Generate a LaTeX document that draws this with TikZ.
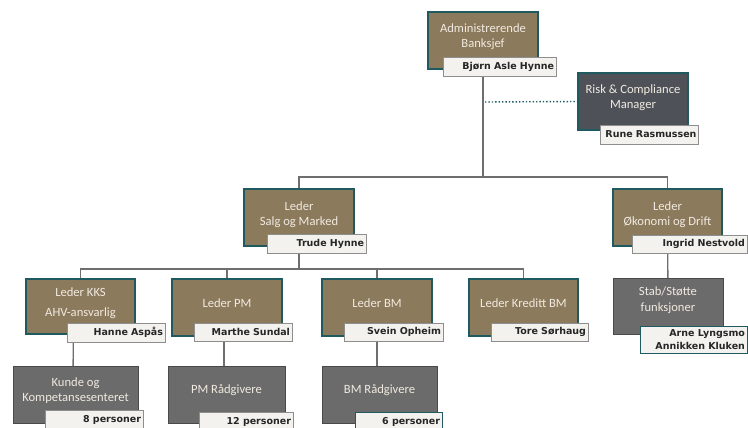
\documentclass[tikz,border=0pt]{standalone}
\usepackage{fontspec}
\setmainfont{Carlito}
\newfontfamily\lblfont{DejaVu Sans}
\pgfdeclarelayer{bg}
\pgfsetlayers{bg,main}
\definecolor{brownbox}{HTML}{8C7A5D}
\definecolor{tealline}{HTML}{1E5A60}
\definecolor{riskfill}{HTML}{4E5258}
\definecolor{grayfill}{HTML}{6B6B6B}
\definecolor{grayedge}{HTML}{4A4A4A}
\definecolor{lblfill}{HTML}{F3F2EE}
\definecolor{lbledge}{HTML}{8E8E8E}
\definecolor{boxtext}{HTML}{F0EAE0}
\definecolor{conn}{HTML}{6E6E6E}
\tikzset{
  x=1pt, y=-1pt,
  bbox/.style={draw=tealline, line width=1.2pt, fill=brownbox, inner sep=0pt},
  rbox/.style={draw=tealline, line width=1.2pt, fill=riskfill, inner sep=0pt},
  gbox/.style={draw=grayedge, line width=0.8pt, fill=grayfill, inner sep=0pt},
  btxt/.style={text=boxtext, align=center, font=\fontsize{12.6}{15.5}\selectfont, inner sep=0pt},
  lbl/.style={draw=lbledge, line width=0.8pt, fill=lblfill, inner xsep=2pt, inner ysep=0pt,
    align=right, font=\lblfont\bfseries\fontsize{9.5}{13}\selectfont, text=black!85},
  tlbl/.style={lbl, draw=tealline},
  cline/.style={draw=conn, line width=1.4pt},
  dline/.style={draw=tealline, line width=1.4pt, dotted},
}
\begin{document}
\begin{tikzpicture}
\useasboundingbox (0,0) rectangle (748,428);
\clip (0,0) rectangle (748,428);
% level 1
\node[bbox, minimum width=110pt, minimum height=57pt] (admin) at (483,40.5) {};
\node[btxt] (admint) at ([yshift=4pt]admin.center) {Administrerende\\Banksjef};
\node[lbl, text width=109pt, minimum height=19pt] (adminl) at (499.5,66.5) {Bjørn Asle Hynne};
% risk
\node[rbox, minimum width=110pt, minimum height=57pt] (risk) at (633,101.5) {};
\node[btxt] (riskt) at ([yshift=4pt]risk.center) {Risk \& Compliance\\Manager};
\node[lbl, text width=94pt, minimum height=19pt] (riskl) at (649.5,134.5) {\mbox{Rune Rasmussen}};
% level 2
\node[bbox, minimum width=110pt, minimum height=57pt] (salg) at (299,217.5) {};
\node[btxt] (salgt) at ([yshift=3pt]salg.center) {Leder\\Salg og Marked};
\node[lbl, text width=95pt, minimum height=19pt] (salgl) at (316.5,243.5) {Trude Hynne};
\node[bbox, minimum width=109pt, minimum height=57pt] (okon) at (667.5,217.5) {};
\node[btxt] (okont) at ([yshift=3pt]okon.center) {Leder\\Økonomi og Drift};
\node[lbl, text width=111pt, minimum height=18pt] (okonl) at (689.5,244) {Ingrid Nestvold};
% level 3
\node[bbox, minimum width=109pt, minimum height=55pt] (kks) at (80.5,306.5) {};
\node[btxt, font=\fontsize{12.6}{20}\selectfont] (kkst) at ([yshift=3pt]kks.center) {Leder KKS\\AHV-ansvarlig};
\node[lbl, text width=94pt, minimum height=19pt] (kksl) at (116,332.5) {Hanne Aspås};
\node[bbox, minimum width=110pt, minimum height=57pt] (pm) at (227,307.5) {};
\node[btxt] (pmt) at ([yshift=4pt]pm.center) {Leder PM};
\node[lbl, text width=94pt, minimum height=18pt] (pml) at (243,332) {Marthe Sundal};
\node[bbox, minimum width=110pt, minimum height=57pt] (bm) at (377,307.5) {};
\node[btxt] (bmt) at ([yshift=4pt]bm.center) {Leder BM};
\node[lbl, text width=95pt, minimum height=18pt] (bml) at (393.5,332) {Svein Opheim};
\node[bbox, minimum width=109pt, minimum height=57pt] (kred) at (523.5,307.5) {};
\node[btxt] (kredt) at ([yshift=4pt]kred.center) {Leder Kreditt BM};
\node[lbl, text width=93pt, minimum height=18pt] (kredl) at (539.5,332) {Tore Sørhaug};
\node[gbox, minimum width=110pt, minimum height=56pt] (stab) at (668,306) {};
\node[btxt] (stabt) at ([yshift=6pt]stab.center) {Stab/Støtte\\funksjoner};
\node[tlbl, text width=103pt, minimum height=27pt] (stabl) at (693.5,339.5) {Arne Lyngsmo\\Annikken Kluken};
% level 4
\node[gbox, minimum width=125pt, minimum height=57pt] (kunde) at (75.5,394.5) {};
\node[btxt] (kundet) at ([yshift=4pt]kunde.center) {Kunde og\\Kompetansesenteret};
\node[lbl, text width=94pt, minimum height=20pt] (kundel) at (94,420) {8 personer};
\node[gbox, minimum width=117pt, minimum height=57pt] (pmr) at (226.5,394.5) {};
\node[btxt] (pmrt) at ([yshift=4pt]pmr.center) {PM Rådgivere};
\node[lbl, text width=90pt, minimum height=20pt] (pmrl) at (246,422) {12 personer};
\node[gbox, minimum width=115pt, minimum height=57pt] (bmr) at (379.5,394.5) {};
\node[btxt] (bmrt) at ([yshift=4pt]bmr.center) {BM Rådgivere};
\node[tlbl, text width=83pt, minimum height=20pt] (bmrl) at (398.5,422) {6 personer};
% connectors
\coordinate (hub1) at (483,177);
\coordinate (hubr) at (485,102);
\coordinate (hub2) at (299,269);
\begin{pgfonlayer}{bg}
\draw[cline] (admin.center) -- (hub1);
\draw[cline] (salg.center) |- (hub1) -| (okon.center);
\draw[dline] (hubr) -- (risk.west);
\draw[cline] (salg.center) -- (hub2);
\draw[cline] (kks.center) |- (hub2) -| (kred.center);
\draw[cline] (pm.center) -- (pm.center |- hub2);
\draw[cline] (bm.center) -- (bm.center |- hub2);
\draw[cline] (okon.center) -- (stab.center);
\draw[cline] ([xshift=-7pt]kks.center) -- ([xshift=-2.5pt]kunde.center);
\draw[cline] ([xshift=-3pt]pm.center) -- ([xshift=-2.5pt]pmr.center);
\draw[cline] (bm.center) -- ([xshift=-2.5pt]bmr.center);
\end{pgfonlayer}
\end{tikzpicture}
\end{document}
